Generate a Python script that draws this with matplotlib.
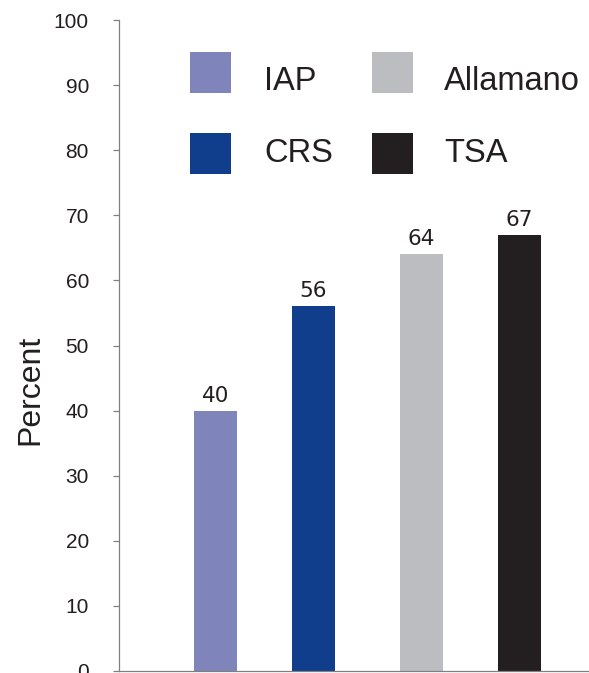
import matplotlib
matplotlib.use("Agg")
import matplotlib.pyplot as plt
from matplotlib.patches import Rectangle

# Data
categories = ["IAP", "CRS", "Allamano", "TSA"]
percent = [40, 56, 64, 67]
yticks = [0, 10, 20, 30, 40, 50, 60, 70, 80, 90, 100]

# Styling / layout
colors = ["#7f85ba", "#113e8c", "#bcbdc1", "#231f20"]
xpos = [0, 1, 2.1, 3.1]
text_color = "#231f20"
axis_color = "#808080"

W, H = 589, 673
fig = plt.figure(figsize=(W / 100, H / 100), dpi=100)
ax = fig.add_axes([118.5 / W, 2 / H, 1 - 118.5 / W, 651 / H])

bars = ax.bar(xpos, percent, width=0.44, color=colors, zorder=2)

for x, v in zip(xpos, percent):
    ax.annotate(str(v), xy=(x, v), xytext=(0, 6.5), textcoords="offset points",
                ha="center", va="baseline", fontsize=15.5,
                family="DejaVu Sans", color=text_color)

ax.set_xlim(-0.99, 3.81)
ax.set_ylim(0, 100)
ax.set_yticks(yticks)
ax.set_yticklabels([str(t) for t in yticks], family="Liberation Sans",
                   fontsize=15, color=text_color)
ax.set_xticks([])
ax.tick_params(axis="y", direction="out", length=4.3, width=0.9,
               color=axis_color, pad=17)

for side in ("top", "right"):
    ax.spines[side].set_visible(False)
for side in ("left", "bottom"):
    ax.spines[side].set_color(axis_color)
    ax.spines[side].set_linewidth(0.9)
ax.spines["bottom"].set_zorder(3)

fig.text(38 / W, 1 - 390 / H, "Percent", rotation=90, rotation_mode="anchor",
         ha="center", va="baseline", fontsize=23, family="Liberation Sans",
         color=text_color)

# Legend: two columns of colour squares with labels
sq_left = [190, 372, 190, 372]
sq_top = [52, 52, 133, 133]
txt_left = [264, 444, 264, 444]
txt_base = [90, 90, 161.7, 161.7]
order = [0, 2, 1, 3]
for slot, idx in enumerate(order):
    fig.add_artist(Rectangle((sq_left[slot] / W, 1 - (sq_top[slot] + 41) / H),
                             41 / W, 41 / H, transform=fig.transFigure,
                             facecolor=colors[idx], edgecolor="none"))
    fig.text(txt_left[slot] / W, 1 - txt_base[slot] / H, categories[idx],
             ha="left", va="baseline", fontsize=23.5,
             family="Liberation Sans", color=text_color)

fig.savefig("out.png", dpi=100)
